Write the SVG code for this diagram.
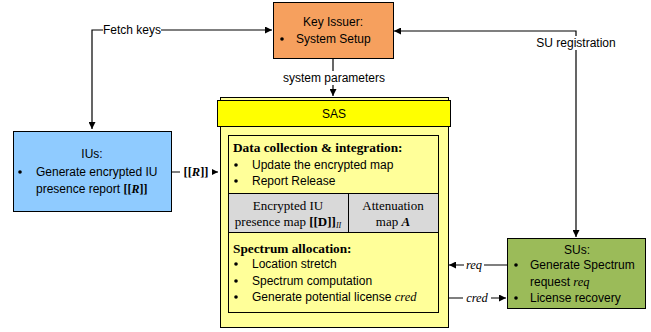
<svg xmlns="http://www.w3.org/2000/svg" width="651" height="332" viewBox="0 0 651 332">
<style>
.s{font-family:"Liberation Sans",Arial,sans-serif;font-size:12px;fill:#000}
.b{font-family:"Liberation Serif","Times New Roman",serif;font-size:13.3px;font-weight:bold;fill:#000}
.r{font-family:"Liberation Serif","Times New Roman",serif;font-size:13px;fill:#000}
.i{font-family:"Liberation Serif","Times New Roman",serif;font-size:12.5px;font-style:italic;fill:#000}
.box{stroke:#000;stroke-width:1}
.ln{fill:none;stroke:#000;stroke-width:1.2}
</style>
<defs>
<marker id="ah" viewBox="0 0 10 10" refX="10" refY="5" markerWidth="7" markerHeight="7" markerUnits="userSpaceOnUse" orient="auto-start-reverse">
<path d="M0,0 L10,5 L0,10 z" fill="#000"/>
</marker>
</defs>
<rect width="651" height="332" fill="#fff"/>
<g id="connectors">
<path class="ln" d="M92,129 V30 H272" marker-start="url(#ah)" marker-end="url(#ah)"/>
<rect x="103" y="23" width="58" height="14" fill="#fff"/>
<text class="s" x="132" y="34" text-anchor="middle">Fetch keys</text>
<path class="ln" d="M394,31 H576 V237" marker-start="url(#ah)" marker-end="url(#ah)"/>
<rect x="528" y="36" width="96" height="14" fill="#fff"/>
<text class="s" x="576" y="47" text-anchor="middle">SU registration</text>
<path class="ln" d="M333,58 V96" marker-end="url(#ah)"/>
<rect x="280" y="71" width="108" height="14" fill="#fff"/>
<text class="s" x="334" y="82" text-anchor="middle">system parameters</text>
<path class="ln" d="M172,172 H218" marker-end="url(#ah)"/>
<rect x="180" y="165" width="32" height="14" fill="#fff"/>
<text x="196" y="176" text-anchor="middle" font-family="'Liberation Serif',serif" font-size="12.5" font-weight="bold">[[<tspan font-style="italic">R</tspan>]]</text>
<path class="ln" d="M507,265 H449" marker-end="url(#ah)"/>
<rect x="464" y="258" width="20" height="13" fill="#fff"/>
<text class="i" x="474" y="269" text-anchor="middle">req</text>
<path class="ln" d="M449,298 H506" marker-end="url(#ah)"/>
<rect x="463" y="291" width="28" height="13" fill="#fff"/>
<text class="i" x="477" y="302" text-anchor="middle">cred</text>
</g>
<g id="key-issuer">
<rect class="box" x="273.5" y="2.5" width="120" height="56" fill="#F6A05E"/>
<text class="s" x="333" y="26" text-anchor="middle">Key Issuer:</text>
<circle cx="282" cy="39" r="1.8"/>
<text class="s" x="296" y="43">System Setup</text>
</g>
<g id="ius">
<rect class="box" x="13.5" y="131.5" width="158" height="80" fill="#8FCBFF"/>
<text class="s" x="92" y="158" text-anchor="middle">IUs:</text>
<circle cx="20" cy="172" r="1.8"/>
<text class="s" x="36" y="176">Generate encrypted IU</text>
<text x="36" y="193" font-family="'Liberation Sans',Arial,sans-serif" font-size="12">presence report <tspan font-family="'Liberation Serif',serif" font-weight="bold">[[<tspan font-style="italic">R</tspan>]]</tspan></text>
</g>
<g id="sas">
<rect class="box" x="220.5" y="97.5" width="228" height="230" fill="#FFFF99"/>
<rect class="box" x="217.5" y="100.5" width="233" height="26" fill="#FFFF00"/>
<text class="s" x="334" y="118" text-anchor="middle">SAS</text>
<rect class="box" x="228.5" y="135.5" width="210" height="177" fill="#FFFF99"/>
<rect class="box" x="228.5" y="193.5" width="210" height="39" fill="#D9D9D9"/>
<line class="box" x1="348.5" y1="193.5" x2="348.5" y2="232.5"/>
<text class="b" x="233" y="152">Data collection &amp; integration:</text>
<circle cx="236" cy="165" r="1.8"/>
<text class="s" x="252" y="169">Update the encrypted map</text>
<circle cx="236" cy="181" r="1.8"/>
<text class="s" x="252" y="185">Report Release</text>
<text class="r" x="288" y="210" text-anchor="middle">Encrypted IU</text>
<text class="r" x="288" y="226" text-anchor="middle">presence map  <tspan font-weight="bold">[[D]]</tspan><tspan font-style="italic" font-size="8" dy="2">II</tspan></text>
<text class="r" x="393" y="210" text-anchor="middle">Attenuation</text>
<text class="r" x="393" y="226" text-anchor="middle">map  <tspan font-weight="bold" font-style="italic">A</tspan></text>
<text class="b" x="233" y="253">Spectrum allocation:</text>
<circle cx="236" cy="264" r="1.8"/>
<text class="s" x="252" y="268">Location stretch</text>
<circle cx="236" cy="281" r="1.8"/>
<text class="s" x="252" y="285">Spectrum computation</text>
<circle cx="236" cy="297" r="1.8"/>
<text class="s" x="252" y="301">Generate potential license <tspan class="i">cred</tspan></text>
</g>
<g id="sus">
<rect class="box" x="507.5" y="238.5" width="138" height="70" fill="#9BBB59"/>
<text class="s" x="577" y="254" text-anchor="middle">SUs:</text>
<circle cx="516" cy="265" r="1.8"/>
<text class="s" x="530" y="269">Generate Spectrum</text>
<text class="s" x="530" y="286">request <tspan class="i">req</tspan></text>
<circle cx="516" cy="298" r="1.8"/>
<text class="s" x="530" y="302">License recovery</text>
</g>
</svg>
